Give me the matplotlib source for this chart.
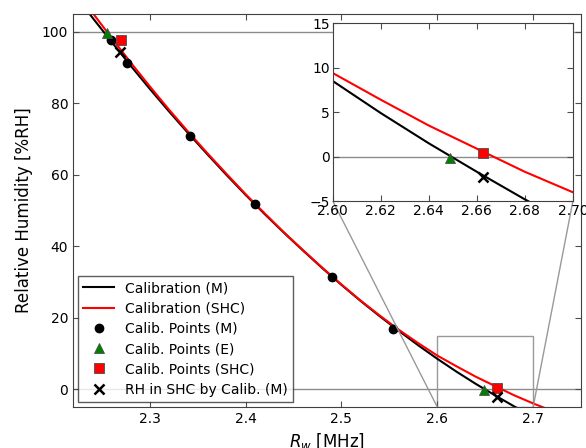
import matplotlib
matplotlib.use("Agg")
import matplotlib.pyplot as plt
from mpl_toolkits.axes_grid1.inset_locator import mark_inset

plt.rcParams['font.family'] = ['DejaVu Sans']
plt.rcParams['mathtext.fontset'] = 'dejavusans'

# curvas de calibracion (paso 0.02 MHz)
x_curva = [2.22, 2.24, 2.26, 2.28, 2.30, 2.32, 2.34, 2.36, 2.38, 2.40, 2.42, 2.44, 2.46,
           2.48, 2.50, 2.52, 2.54, 2.56, 2.58, 2.60, 2.62, 2.64, 2.66, 2.68, 2.70, 2.72]
rh_cal_m = [111.1, 104.1, 97.3, 90.6, 84.1, 77.8, 71.7, 65.8, 60.0, 54.4, 49.0, 43.8, 38.8,
            33.9, 29.2, 24.7, 20.4, 16.3, 12.3, 8.5, 4.9, 1.5, -1.7, -4.8, -7.7, -10.4]
rh_cal_shc = [112.9, 105.5, 98.4, 91.5, 84.8, 78.3, 72.1, 66.1, 60.3, 54.6, 49.2, 43.9, 38.9,
              34.0, 29.3, 24.8, 20.6, 16.6, 12.9, 9.4, 6.4, 3.5, 0.9, -1.7, -4.0, -6.1]

# puntos
x_pts_m = [2.260, 2.276, 2.342, 2.410, 2.490, 2.554]
rh_pts_m = [97.8, 91.3, 71.0, 51.7, 31.5, 16.8]
x_pts_e = [2.255, 2.649]
rh_pts_e = [99.7, -0.1]
x_pts_shc = [2.270, 2.6626]
rh_pts_shc = [97.8, 0.41]
x_rh_shc = [2.269, 2.6626]
rh_rh_shc = [94.4, -2.27]

fig = plt.figure(figsize=(5.86, 4.48), dpi=100)
ax = fig.add_axes([0.1246, 0.0915, 0.867, 0.877])


def dibuja(a, leyenda=True):
    a.axhline(0, color='0.55', lw=1, zorder=1)
    a.axhline(100, color='0.55', lw=1, zorder=1)
    a.plot(x_curva, rh_cal_m, '-', color='k', lw=1.5, label='Calibration (M)')
    a.plot(x_curva, rh_cal_shc, '-', color='r', lw=1.5, label='Calibration (SHC)')
    a.plot(x_pts_m, rh_pts_m, 'o', color='k', ms=6, mec='k', label='Calib. Points (M)')
    a.plot(x_pts_e, rh_pts_e, '^', color='g', ms=7, mec='0.3', mew=0.6, label='Calib. Points (E)')
    a.plot(x_pts_shc, rh_pts_shc, 's', color='r', ms=7, mec='0.3', mew=0.6, label='Calib. Points (SHC)')
    a.plot(x_rh_shc, rh_rh_shc, 'x', color='k', ms=7, mew=1.8, label='RH in SHC by Calib. (M)')
    a.tick_params(direction='in', top=True, right=True, labelsize=10, length=4, color='0.3')
    for s in a.spines.values():
        s.set_color('0.25')


dibuja(ax)
ax.set_xlim(2.22, 2.75)
ax.set_ylim(-5, 105)
ax.set_xticks([2.3, 2.4, 2.5, 2.6, 2.7])
ax.set_yticks([0, 20, 40, 60, 80, 100])
ax.set_xlabel(r'$R_w$ [MHz]', fontsize=12, labelpad=4)
ax.set_ylabel('Relative Humidity [%RH]', fontsize=12, labelpad=6)
leg = ax.legend(loc='lower left', numpoints=1, fontsize=10, fancybox=False,
                borderaxespad=0.35, handlelength=2.2, labelspacing=0.45)
leg.get_frame().set_edgecolor('0.2')

axins = fig.add_axes([0.568, 0.551, 0.4096, 0.397])
dibuja(axins)
axins.set_xlim(2.60, 2.70)
axins.set_ylim(-5, 15)
axins.set_xticks([2.60, 2.62, 2.64, 2.66, 2.68, 2.70])
axins.set_xticklabels(['2.60', '2.62', '2.64', '2.66', '2.68', '2.70'])
axins.set_yticks([-5, 0, 5, 10, 15])
axins.tick_params(pad=2)
mark_inset(ax, axins, loc1=3, loc2=4, fc='none', ec='0.6', lw=1)

plt.savefig('out.png', dpi=100)
